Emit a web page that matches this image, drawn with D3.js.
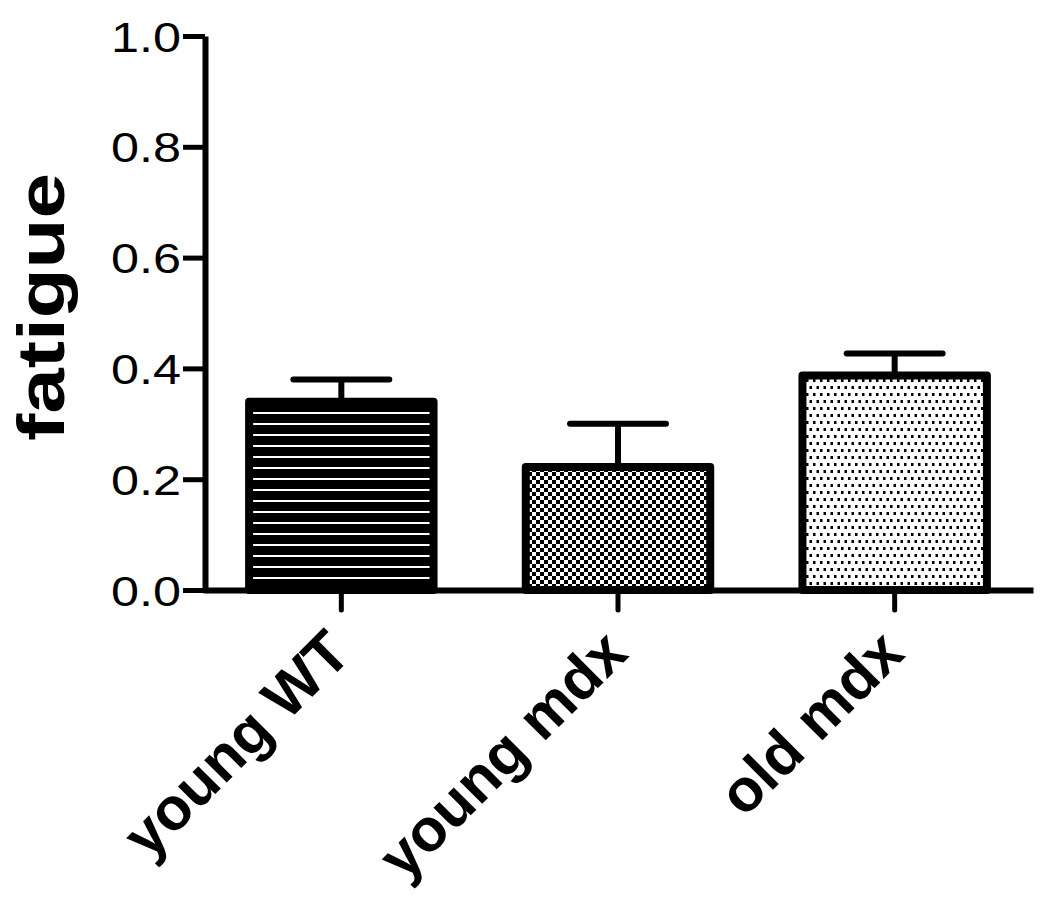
<!DOCTYPE html>
<html>
<head>
    <meta charset="utf-8" />
    <title>fatigue</title>
    <script src="https://d3js.org/d3.v7.min.js"></script>
    <style>
        body { margin: 0; background: #fff; }
        svg text { font-family: "Liberation Sans", Arial, Helvetica, sans-serif; fill: #000; }
    </style>
</head>
<body>
<div id="chart"></div>
<script>
    // data
    var categories = ["young WT", "young mdx", "old mdx"];
    var means = [0.34, 0.222, 0.387];
    var sems = [0.04, 0.078, 0.04];
    var patterns = ["hlines", "checker", "dots"];
    var yTicks = [0.0, 0.2, 0.4, 0.6, 0.8, 1.0];

    var W = 1050, H = 901;

    var svg = d3.select("#chart").append("svg")
        .attr("width", W)
        .attr("height", H);

    // fill patterns
    var defs = svg.append("defs");

    var p1 = defs.append("pattern").attr("id", "hlines")
        .attr("patternUnits", "userSpaceOnUse")
        .attr("width", 11).attr("height", 11);
    p1.append("rect").attr("width", 11).attr("height", 11).attr("fill", "#000");
    p1.append("rect").attr("y", 5).attr("width", 11).attr("height", 2).attr("fill", "#fff");

    var p2 = defs.append("pattern").attr("id", "checker")
        .attr("patternUnits", "userSpaceOnUse")
        .attr("width", 8).attr("height", 8);
    p2.append("rect").attr("width", 8).attr("height", 8).attr("fill", "#fff");
    p2.append("rect").attr("width", 4).attr("height", 4).attr("fill", "#000");
    p2.append("rect").attr("x", 4).attr("y", 4).attr("width", 4).attr("height", 4).attr("fill", "#000");

    var p3 = defs.append("pattern").attr("id", "dots")
        .attr("patternUnits", "userSpaceOnUse")
        .attr("width", 7).attr("height", 14);
    p3.append("rect").attr("width", 7).attr("height", 14).attr("fill", "#fff");
    p3.append("rect").attr("x", 1).attr("y", 1).attr("width", 2.5).attr("height", 3).attr("fill", "#000");
    p3.append("rect").attr("x", 4.5).attr("y", 8).attr("width", 2.5).attr("height", 3).attr("fill", "#000");

    // scales
    var x = d3.scaleBand()
        .domain(categories)
        .range([203, 1033])
        .paddingInner(1 / 3)
        .paddingOuter(1 / 6);

    var y = d3.scaleLinear()
        .domain([0, 1])
        .range([590, 36]);

    // error bars (upper only), drawn under the bars
    var err = svg.append("g").attr("class", "errors");
    categories.forEach(function (c, i) {
        var cx = x(c) + x.bandwidth() / 2;
        var capW = x.bandwidth() * 0.52;
        err.append("line")
            .attr("x1", cx).attr("x2", cx)
            .attr("y1", y(means[i])).attr("y2", y(means[i] + sems[i]))
            .attr("stroke", "#000").attr("stroke-width", 6);
        err.append("line")
            .attr("x1", cx - capW / 2).attr("x2", cx + capW / 2)
            .attr("y1", y(means[i] + sems[i])).attr("y2", y(means[i] + sems[i]))
            .attr("stroke", "#000").attr("stroke-width", 6)
            .attr("stroke-linecap", "round");
    });

    // bars
    svg.append("g").selectAll("rect")
        .data(categories)
        .join("rect")
        .attr("x", function (d) { return x(d); })
        .attr("width", x.bandwidth())
        .attr("y", function (d, i) { return y(means[i]); })
        .attr("height", function (d, i) { return y(0) - y(means[i]); })
        .attr("fill", function (d, i) { return "url(#" + patterns[i] + ")"; })
        .attr("stroke", "#000")
        .attr("stroke-width", 8)
        .attr("stroke-linejoin", "round");

    // y axis
    var yAxis = svg.append("g")
        .attr("transform", "translate(205,0)")
        .call(d3.axisLeft(y)
            .tickValues(yTicks)
            .tickSize(22)
            .tickSizeOuter(0)
            .tickPadding(2)
            .tickFormat(d3.format(".1f")));
    yAxis.select(".domain").attr("stroke-width", 6);
    yAxis.selectAll(".tick line").attr("stroke-width", 5);
    yAxis.selectAll(".tick text")
        .attr("font-size", 42)
        .attr("textLength", 70)
        .attr("lengthAdjust", "spacingAndGlyphs")
        .attr("dy", "0.36em");

    // x axis
    var xAxis = svg.append("g")
        .attr("transform", "translate(0," + y(0) + ")")
        .call(d3.axisBottom(x)
            .tickSize(20)
            .tickSizeOuter(0));
    xAxis.select(".domain").attr("stroke-width", 6);
    xAxis.selectAll(".tick line").attr("stroke-width", 5).attr("stroke-linecap", "round");
    xAxis.selectAll(".tick text")
        .attr("font-size", 60)
        .attr("font-weight", "bold")
        .attr("text-anchor", "end")
        .attr("x", null).attr("y", null).attr("dy", null)
        .attr("transform", "translate(12,66) rotate(-45)");

    // y axis title
    svg.append("text")
        .attr("transform", "translate(64,307) rotate(-90)")
        .attr("text-anchor", "middle")
        .attr("font-size", 66)
        .attr("font-weight", "bold")
        .attr("textLength", 268)
        .attr("lengthAdjust", "spacingAndGlyphs")
        .text("fatigue");
</script>
</body>
</html>
